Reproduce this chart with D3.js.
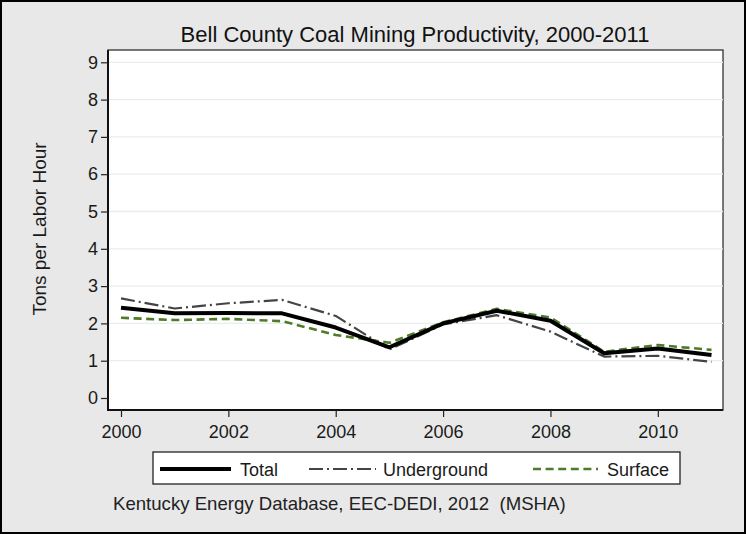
<!DOCTYPE html>
<html><head><meta charset="utf-8">
<script src="https://cdn.jsdelivr.net/npm/d3@7"></script>
<style>body{margin:0;background:#fff}svg{display:block}text{font-family:"Liberation Sans",Arial,sans-serif}</style>
</head><body><svg id="c" width="746" height="534"></svg>
<script>
const years = [2000,2001,2002,2003,2004,2005,2006,2007,2008,2009,2010,2011];
const total = [2.42,2.27,2.28,2.27,1.89,1.36,2.00,2.34,2.07,1.20,1.33,1.15];
const underground = [2.67,2.40,2.54,2.63,2.20,1.30,1.97,2.22,1.78,1.11,1.13,0.97];
const surface = [2.15,2.09,2.12,2.06,1.69,1.48,2.03,2.39,2.16,1.24,1.42,1.29];
const yTicks = [0,1,2,3,4,5,6,7,8,9];
const xTicks = [2000,2002,2004,2006,2008,2010];
const seriesNames = ["Total","Underground","Surface"];

const svg = d3.select("#c");
const W=746,H=534;
svg.append("rect").attr("x",1).attr("y",1).attr("width",W-2).attr("height",H-2).attr("fill","#e8e8e8").attr("stroke","#000").attr("stroke-width",2);

const L=108,R=723,T=50,B=410;
const x = d3.scaleLinear().domain([2000,2011]).range([121,711.5]);
const y = d3.scaleLinear().domain([0,9]).range([398,62.3]);

svg.append("rect").attr("x",L).attr("y",T).attr("width",R-L).attr("height",B-T).attr("fill","#fff").attr("stroke","#222").attr("stroke-width",1.2);

// gridlines
svg.append("g").selectAll("line").data(yTicks.filter(d=>d>0)).join("line")
  .attr("x1",L).attr("x2",R).attr("y1",d=>y(d)).attr("y2",d=>y(d))
  .attr("stroke","#e6eeef").attr("stroke-width",1.3);

// axes lines
svg.append("line").attr("x1",L).attr("x2",L).attr("y1",T).attr("y2",B+1).attr("stroke","#111").attr("stroke-width",2);
svg.append("line").attr("x1",L-1).attr("x2",R).attr("y1",B).attr("y2",B).attr("stroke","#111").attr("stroke-width",2);

const ya = d3.axisLeft(y).tickValues(yTicks).tickSize(7).tickPadding(3).tickFormat(d3.format("d"));
const gy = svg.append("g").attr("transform",`translate(${L},0)`).call(ya);
gy.select(".domain").remove();
gy.selectAll("line").attr("stroke","#222").attr("stroke-width",1.2);
gy.selectAll("text").attr("font-size",18).attr("fill","#1a1a1a");

const xa = d3.axisBottom(x).tickValues(xTicks).tickSize(7).tickPadding(8).tickFormat(d3.format("d"));
const gx = svg.append("g").attr("transform",`translate(0,${B})`).call(xa);
gx.select(".domain").remove();
gx.selectAll("line").attr("stroke","#222").attr("stroke-width",1.2);
gx.selectAll("text").attr("font-size",18).attr("fill","#1a1a1a");

const line = d3.line().x((d,i)=>x(years[i])).y(d=>y(d));
const styles = {
  Total:{data:total,stroke:"#000",w:4,dash:null},
  Underground:{data:underground,stroke:"#444",w:2.2,dash:"14,4,2,4"},
  Surface:{data:surface,stroke:"#4f7a28",w:2.6,dash:"8,4.6"}
};
["Underground","Surface","Total"].forEach(n=>{
  const s=styles[n];
  svg.append("path").datum(s.data).attr("d",line).attr("fill","none")
    .attr("stroke",s.stroke).attr("stroke-width",s.w).attr("stroke-dasharray",s.dash)
    .attr("stroke-linejoin","round");
});

// title
svg.append("text").attr("x",415).attr("y",42).attr("text-anchor","middle").attr("font-size",22).attr("fill","#111")
  .text("Bell County Coal Mining Productivity, 2000-2011");
// y label
svg.append("text").attr("transform","translate(46,229) rotate(-90)").attr("text-anchor","middle").attr("font-size",19).attr("fill","#1a1a1a")
  .text("Tons per Labor Hour");

// legend
const lg = svg.append("g");
lg.append("rect").attr("x",153).attr("y",452).attr("width",527).attr("height",32).attr("fill","#fff").attr("stroke","#111").attr("stroke-width",1.2);
const legPos = [{x1:160,x2:231,tx:240},{x1:309,x2:376,tx:383},{x1:533,x2:598,tx:607}];
seriesNames.forEach((n,i)=>{
  const s=styles[n],p=legPos[i];
  lg.append("line").attr("x1",p.x1).attr("x2",p.x2).attr("y1",469).attr("y2",469)
    .attr("stroke",s.stroke).attr("stroke-width",s.w).attr("stroke-dasharray",s.dash);
  lg.append("text").attr("x",p.tx).attr("y",475.5).attr("font-size",18).attr("fill","#1a1a1a").text(n);
});

svg.append("text").attr("x",113).attr("y",510).attr("font-size",18.6).attr("fill","#222")
  .attr("xml:space","preserve").style("white-space","pre").text("Kentucky Energy Database, EEC-DEDI, 2012  (MSHA)");
</script></body></html>
